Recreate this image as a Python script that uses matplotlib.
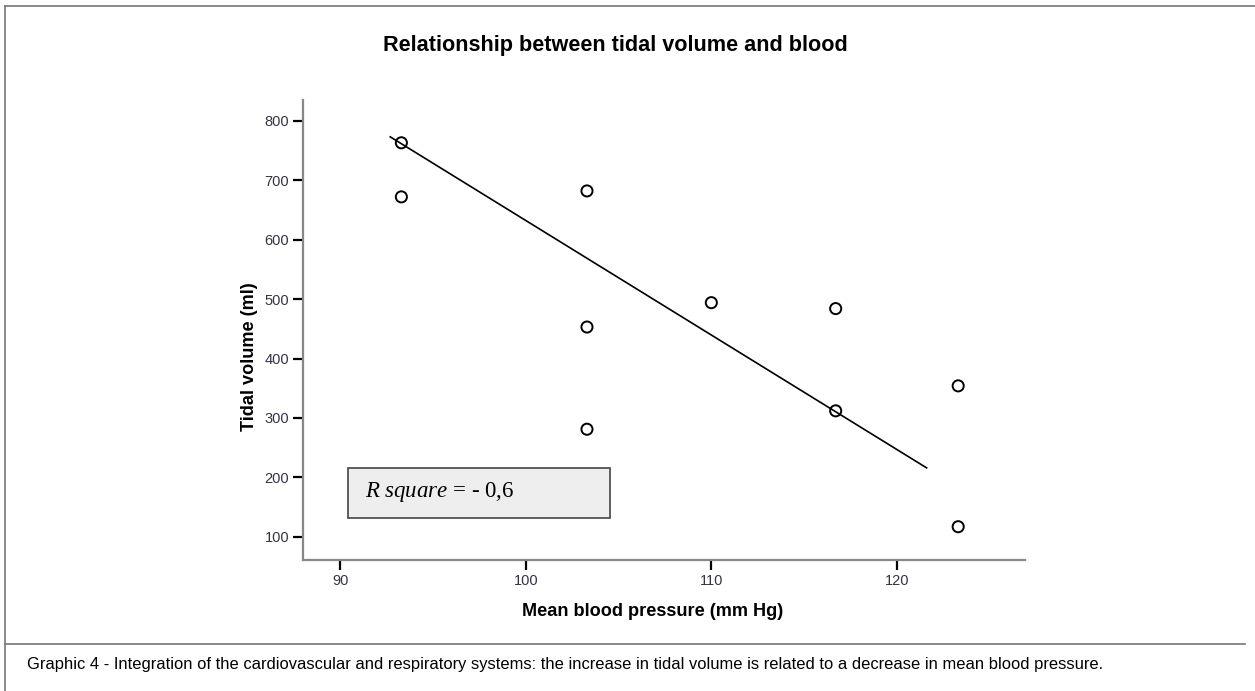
import matplotlib
matplotlib.use('Agg')
import matplotlib.pyplot as plt
from matplotlib.patches import Rectangle
from matplotlib.lines import Line2D

# values
pressure = [93.3, 93.3, 103.3, 103.3, 103.3, 110.0, 116.7, 116.7, 123.3, 123.3]
tidal = [763, 672, 682, 453, 281, 494, 484, 312, 354, 117]

# fit line endpoints as drawn in the picture
fit_x = [92.7, 121.6]
fit_y = [773, 216]

x_ticks = [90, 100, 110, 120]
y_ticks = [100, 200, 300, 400, 500, 600, 700, 800]

plt.rcParams['font.family'] = ['Liberation Sans', 'DejaVu Sans']
plt.rcParams['mathtext.fontset'] = 'custom'
plt.rcParams['mathtext.it'] = 'Liberation Serif:italic'
plt.rcParams['mathtext.rm'] = 'Liberation Serif'

fig = plt.figure(figsize=(12.55, 6.91), dpi=100)
W, H = 1255, 691

# outer frame and caption separator
fig.add_artist(Line2D([5 / W, 5 / W], [0, 1 - 6 / H], color='#777777', lw=1.2))
fig.add_artist(Line2D([5 / W, 1], [1 - 6 / H, 1 - 6 / H], color='#777777', lw=1.2))
fig.add_artist(Line2D([5 / W, 1245 / W], [1 - 644 / H, 1 - 644 / H], color='#777777', lw=1.2))

ax = fig.add_axes([303 / W, 1 - 560 / H, (1025 - 303) / W, (560 - 100) / H])
ax.scatter(pressure, tidal, s=64, facecolors='none', edgecolors='black', linewidths=1.4, zorder=3)
ax.plot(fit_x, fit_y, color='black', lw=1.2, zorder=2)

ax.set_xlim(88.0, 126.9)
ax.set_ylim(61, 835)
ax.set_xticks(x_ticks)
ax.set_yticks(y_ticks)
ax.tick_params(direction='out', length=7, width=1.6, color='black',
               labelsize=10.5, labelcolor='#333344', pad=3)
for s in ['top', 'right']:
    ax.spines[s].set_visible(False)
for s in ['left', 'bottom']:
    ax.spines[s].set_color('#888888')
    ax.spines[s].set_linewidth(1.6)

ax.set_xlabel('Mean blood pressure (mm Hg)', fontsize=13.1, fontweight='bold')
ax.set_ylabel('Tidal volume (ml)', fontsize=13.1, fontweight='bold')
ax.xaxis.set_label_coords((653 - 303) / 722, -(612 - 560) / 460)
ax.yaxis.set_label_coords((249 - 303) / 722, (560 - 357) / 460)
ax.xaxis.label.set_va('center')
ax.yaxis.label.set_va('center')

fig.text(615 / W, 1 - 46 / H, 'Relationship between tidal volume and blood',
         ha='center', va='center', fontsize=15.6, fontweight='bold')

# R square box
fig.add_artist(Rectangle((348 / W, 1 - 518 / H), (610 - 348) / W, 50 / H,
                         facecolor='#eeeeee', edgecolor='#444444', lw=1.2))
fig.text(365 / W, 1 - 492 / H, r'$R\ square$ = - 0,6', ha='left', va='center',
         fontsize=16.5, family='Liberation Serif', math_fontfamily='custom')

fig.text(27 / W, 1 - 664 / H,
         'Graphic 4 - Integration of the cardiovascular and respiratory systems: the increase in tidal volume '
         'is related to a decrease in mean blood pressure.',
         ha='left', va='center', fontsize=11.9, family=['Liberation Sans', 'DejaVu Sans'])

fig.savefig('out.png', dpi=100)
